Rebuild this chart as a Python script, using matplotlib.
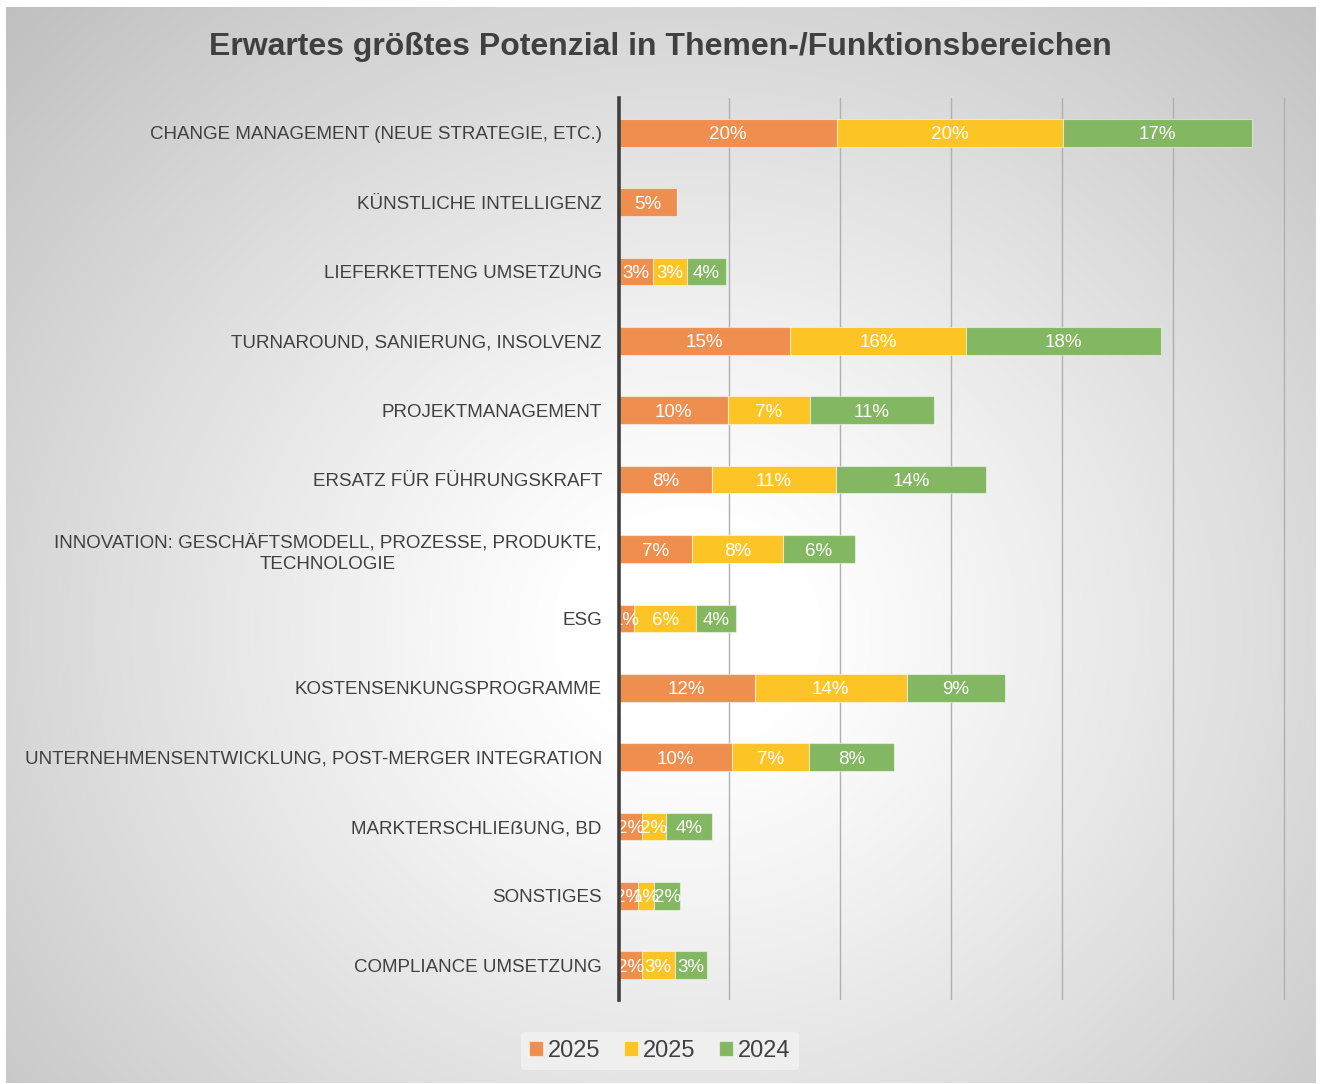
import numpy as np
import matplotlib
matplotlib.use("Agg")
import matplotlib.pyplot as plt

plt.rcParams['font.family'] = ['Liberation Sans', 'DejaVu Sans']

categories = [
    "CHANGE MANAGEMENT (NEUE STRATEGIE, ETC.)",
    "KÜNSTLICHE INTELLIGENZ",
    "LIEFERKETTENG UMSETZUNG",
    "TURNAROUND, SANIERUNG, INSOLVENZ",
    "PROJEKTMANAGEMENT",
    "ERSATZ FÜR FÜHRUNGSKRAFT",
    "INNOVATION: GESCHÄFTSMODELL, PROZESSE, PRODUKTE,\nTECHNOLOGIE",
    "ESG",
    "KOSTENSENKUNGSPROGRAMME",
    "UNTERNEHMENSENTWICKLUNG, POST-MERGER INTEGRATION",
    "MARKTERSCHLIEẞUNG, BD",
    "SONSTIGES",
    "COMPLIANCE UMSETZUNG",
]
series_names = ["2025", "2025", "2024"]
vals_a = [19.7, 5.3, 3.1, 15.45, 9.86, 8.42, 6.62, 1.4, 12.3, 10.2, 2.1, 1.76, 2.1]
vals_b = [20.4, 0.0, 3.06, 15.9, 7.39, 11.17, 8.2, 5.6, 13.67, 7.0, 2.2, 1.45, 2.97]
vals_c = [17.0, 0.0, 3.55, 17.6, 11.17, 13.55, 6.49, 3.55, 8.86, 7.63, 4.1, 2.34, 2.9]
colors = ["#EE8E4F", "#FCC525", "#83B762"]

W, H = 1321, 1084
fig = plt.figure(figsize=(W / 100, H / 100), dpi=100)
fig.patch.set_facecolor("white")

# radial gradient background
bg = fig.add_axes([6 / W, 1 / H, 1310 / W, 1076 / H])
yy, xx = np.mgrid[0:1:400j, 0:1:500j]
r = np.sqrt(((xx - 0.52) / 0.52) ** 2 + ((yy - 0.58) / 0.58) ** 2) / np.sqrt(2)
t = np.clip((r - 0.12) / 0.88, 0, 1)
g = np.clip(1.0 - 0.25 * t ** 1.1, 0, 1)
bg.imshow(np.dstack([g, g, g]), aspect="auto", extent=[0, 1, 0, 1], origin="upper")
bg.axis("off")

ax = fig.add_axes([618.5 / W, 1 - 1000 / H, (1286 - 618.5) / W, 902 / H])
ax.patch.set_alpha(0)
y = np.arange(len(categories))
left = np.zeros(len(categories))
for vals, c, name in zip([vals_a, vals_b, vals_c], colors, series_names):
    v = np.array(vals)
    bars = ax.barh(y, v, left=left, height=0.40, color=c, label=name,
                   edgecolor=(1, 1, 1, 0.5), linewidth=0.8, zorder=3)
    for b, val in zip(bars, v):
        if val > 0:
            ax.text(b.get_x() + b.get_width() / 2, b.get_y() + b.get_height() / 2,
                    f"{val:.0f}%", ha="center", va="center_baseline", color="white",
                    fontsize=13.5, zorder=4)
    left += v

ax.set_xlim(0, 60.18)
ax.set_ylim(len(categories) - 0.5, -0.5)
ax.set_xticks(np.arange(10, 61, 10))
ax.xaxis.grid(True, color="#b0b0b0", linewidth=1, zorder=0)
ax.tick_params(axis="x", length=0, labelbottom=False)
ax.tick_params(axis="y", length=0, pad=12)
ax.set_yticks(y)
ax.set_yticklabels(categories, fontsize=13.5, color="#404040", linespacing=1.35)
for lbl in ax.get_yticklabels():
    lbl.set_multialignment("center")
for s in ["top", "right", "bottom"]:
    ax.spines[s].set_visible(False)
ax.spines["left"].set_color("#404040")
ax.spines["left"].set_linewidth(2.6)
ax.spines["left"].set_zorder(5)

fig.text(660 / W, 1 - 47 / H, "Erwartes größtes Potenzial in Themen-/Funktionsbereichen",
         ha="center", va="center", fontsize=23, fontweight="bold", color="#404040")

leg = fig.legend(loc="center", bbox_to_anchor=(660 / W, 1 - 1051 / H), ncol=3,
                 fontsize=17, frameon=True, handlelength=0.6, handleheight=0.6,
                 handletextpad=0.2, columnspacing=1.0, borderpad=0.35)
leg.get_frame().set_facecolor("#f2f2f2")
leg.get_frame().set_edgecolor("none")
leg.get_frame().set_alpha(0.8)
for t in leg.get_texts():
    t.set_color("#404040")

fig.savefig("out.png", dpi=100)
